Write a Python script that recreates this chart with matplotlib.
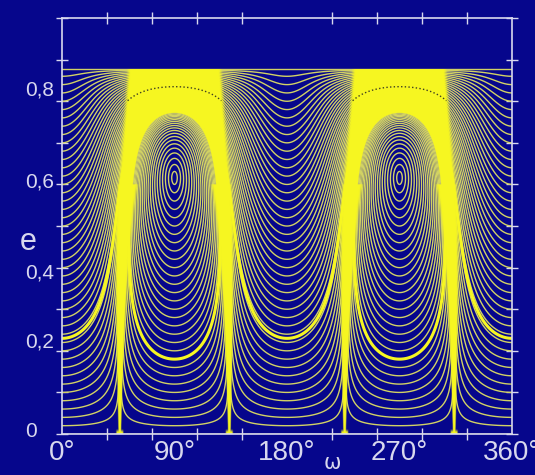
#!/usr/bin/env python3
import numpy as np
import matplotlib
matplotlib.use('Agg')
import matplotlib.pyplot as plt

# Kozai-type secular problem, fixed Kozai integral theta^2 = (1-e^2) cos^2 i
theta2 = 0.231

# levels of the circulating orbits, given by e read at omega = 0
e_circ = [0.02, 0.04, 0.06, 0.08, 0.10, 0.12, 0.14, 0.16, 0.18, 0.20,
          0.22, 0.24, 0.26, 0.28, 0.30, 0.32, 0.34, 0.36, 0.38, 0.40,
          0.42, 0.44, 0.46, 0.48, 0.50, 0.52, 0.54, 0.56, 0.58, 0.60,
          0.62, 0.64, 0.66, 0.68, 0.70, 0.72, 0.74, 0.76, 0.78, 0.80,
          0.82, 0.84, 0.86]
# levels of the librating orbits, given by e read at omega = 90 (lower branch)
e_libr = [0.02, 0.04, 0.06, 0.08, 0.10, 0.12, 0.14, 0.16, 0.18, 0.20,
          0.22, 0.24, 0.26, 0.28, 0.30, 0.32, 0.34, 0.36, 0.38, 0.40,
          0.42, 0.44, 0.46, 0.48, 0.50, 0.52, 0.54, 0.56, 0.58, 0.60]
# orbits that look thicker
e_thick_circ = [0.23]
e_thick_libr = [0.18]
# inner edge of the chaotic layer at omega = 90 (upper branch)
e_chaos_in = 0.772
# dark gap inside the chaotic layer at omega = 90
e_gap = 0.835

ylabels = ['0', '0,2', '0,4', '0,6', '0,8']
ylabel_pos = [0.005, 0.222, 0.388, 0.607, 0.826]
xticks = [0, 90, 180, 270, 360]
xlabels = ['0°', '90°', '180°', '270°', '360°']

bg = '#06068c'
fg = '#d8d8ee'
curve = '#d2d264'
yellow = '#f6f622'

def kozai(e, w):
  c2 = theta2 / (1 - e**2)
  return (2 + 3*e**2) * (3*c2 - 1) + 15 * e**2 * (1 - c2) * np.cos(2*np.radians(w))

emax = np.sqrt(1 - theta2)
w = np.linspace(0, 360, 1441)
e = np.linspace(0, emax, 1200)
W, E = np.meshgrid(w, e)
H = kozai(E, W)
H0 = kozai(0.0, 0.0)   # separatrix level
wm = W % 180
wd = np.minimum(wm, 180 - wm)   # distance from 0/180 in degrees

fig = plt.figure(figsize=(5.35, 4.75), dpi=100, facecolor=bg)
ax = fig.add_axes([0.1159, 0.0863, 0.8411, 0.8757], facecolor=bg)

lv_c = sorted(set(kozai(np.array(e_circ), 0.0)))
lv_l = sorted(set(kozai(np.array(e_libr), 90.0)))
ax.contour(W, E, H, levels=lv_c, colors=curve, linewidths=1.0, linestyles='solid')
ax.contour(W, E, H, levels=lv_l, colors=curve, linewidths=1.0, linestyles='solid')
lv_t = sorted(list(kozai(np.array(e_thick_circ), 0.0)) +
              list(kozai(np.array(e_thick_libr), 90.0)))
ax.contour(W, E, H, levels=lv_t, colors=yellow, linewidths=2.2, linestyles='solid')
ax.plot([0, 360], [emax, emax], color=curve, lw=1.0)

# chaotic layer around the separatrix, drawn as a filled yellow band
circ = H > H0
libr = H < H0
ramp_e = np.clip((E - 0.30) / 0.18, 0, 1)
edge = 43 + 10 * np.clip((E - 0.5) / 0.37, 0, 1)
a_A = circ * np.clip((wd - edge) / 3 + 0.5, 0, 1) * ramp_e
H_in = kozai(e_chaos_in, 90.0)
a_B = libr * np.clip((H - H_in) / (H0 - H_in) * 4, 0, 1) * ramp_e
with np.errstate(divide='ignore', invalid='ignore'):
  ratio = np.abs(H - H0) / np.maximum(E, 1e-6)**2
width = 0.45 * (1 + 9*E)
a_C = np.clip((width - ratio) / (0.3 * width), 0, 1) * (E < 0.6)
# small foot where the separatrix reaches e = 0
a_F = np.clip(1.5 * (1 - E / 0.012), 0, 1) * np.clip((1.3 - ratio) / 0.4, 0, 1)
alpha = np.maximum(np.maximum(a_A, a_B), np.maximum(a_C, a_F))
img = np.zeros(alpha.shape + (4,))
img[..., 0] = 0.965
img[..., 1] = 0.965
img[..., 2] = 0.13
img[..., 3] = alpha
ax.imshow(img, extent=[0, 360, 0, emax], origin='lower', aspect='auto',
          interpolation='bilinear', zorder=3)

# dark dotted gap inside the band
Hg = np.where(a_A > 0.9, H, np.nan)
ax.contour(W, E, Hg, levels=[kozai(e_gap, 90.0)], colors='#404020',
           linewidths=1.0, linestyles=':', zorder=4)

ax.set_xlim(0, 360)
ax.set_ylim(0, 1.0)
for s in ax.spines.values():
  s.set_color(fg)
  s.set_linewidth(1.2)
  s.set_zorder(5)

ax.set_xticks(xticks)
ax.set_xticklabels(xlabels, fontsize=20, color=fg, family='Liberation Sans')
ax.set_xticks(np.arange(0, 361, 36), minor=True)
ax.set_yticks(np.arange(0, 1.01, 0.1), minor=True)
ax.set_yticks([])
ax.tick_params(which='major', length=0, pad=4)
ax.tick_params(which='minor', direction='inout', length=8, color=fg, width=1,
               top=True, right=True)
ytrans = matplotlib.transforms.blended_transform_factory(fig.transFigure, ax.transData)
for lab, pos in zip(ylabels, ylabel_pos):
  ax.text(25 / 535, pos, lab, transform=ytrans, fontsize=15, color=fg,
          family='Liberation Sans', ha='left', va='center')

fig.text(28 / 535, 1 - 242 / 475, 'e', fontsize=22, color=fg,
         family='Liberation Sans', ha='center', va='center')
fig.text(332 / 535, 1 - 463 / 475, 'ω', fontsize=15, color=fg,
         family='DejaVu Sans', ha='center', va='center')

fig.savefig('out.png', dpi=100, facecolor=bg)
